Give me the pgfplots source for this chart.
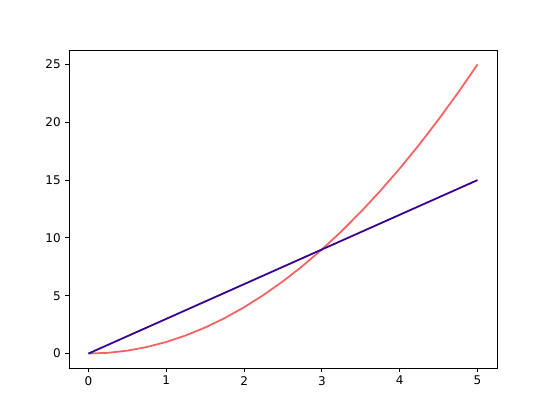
\documentclass[border=0pt]{standalone}
\usepackage{pgfplots}
\pgfplotsset{compat=1.18}
\usepackage{fontspec}
\setmainfont{DejaVu Sans}
\definecolor{redl}{HTML}{F46464}
\definecolor{indg}{HTML}{3A0090}
\begin{document}
\begin{tikzpicture}[x=1pt,y=1pt]
\path[use as bounding box] (0,0) rectangle (552,414);
\begin{axis}[
  at={(69pt,46pt)}, anchor=south west,
  scale only axis, width=428pt, height=318pt,
  xmin=-0.25, xmax=5.25, ymin=-1.25, ymax=26.25,
  xtick={0,1,2,3,4,5}, ytick={0,5,10,15,20,25},
  tick align=outside, tick pos=left,
  major tick length=4.2pt,
  axis line style={line width=0.96pt},
  every tick/.style={line width=0.96pt, black},
  tick label style={font=\fontsize{12}{14}\selectfont},
  /pgf/number format/assume math mode=true,
  xticklabel style={yshift=-0.5pt},
  yticklabel style={xshift=-0.5pt},
]
\addplot[redl, line width=1.8pt] coordinates {
(0,0) (0.25,0.0625) (0.5,0.25) (0.75,0.5625) (1,1) (1.25,1.5625) (1.5,2.25) (1.75,3.0625) (2,4) (2.25,5.0625) (2.5,6.25) (2.75,7.5625) (3,9) (3.25,10.5625) (3.5,12.25) (3.75,14.0625) (4,16) (4.25,18.0625) (4.5,20.25) (4.75,22.5625) (5,25)
};
\addplot[indg, line width=1.8pt] coordinates {
(0,0) (1,3) (2,6) (3,9) (4,12) (5,15)
};
\end{axis}
\end{tikzpicture}
\end{document}
